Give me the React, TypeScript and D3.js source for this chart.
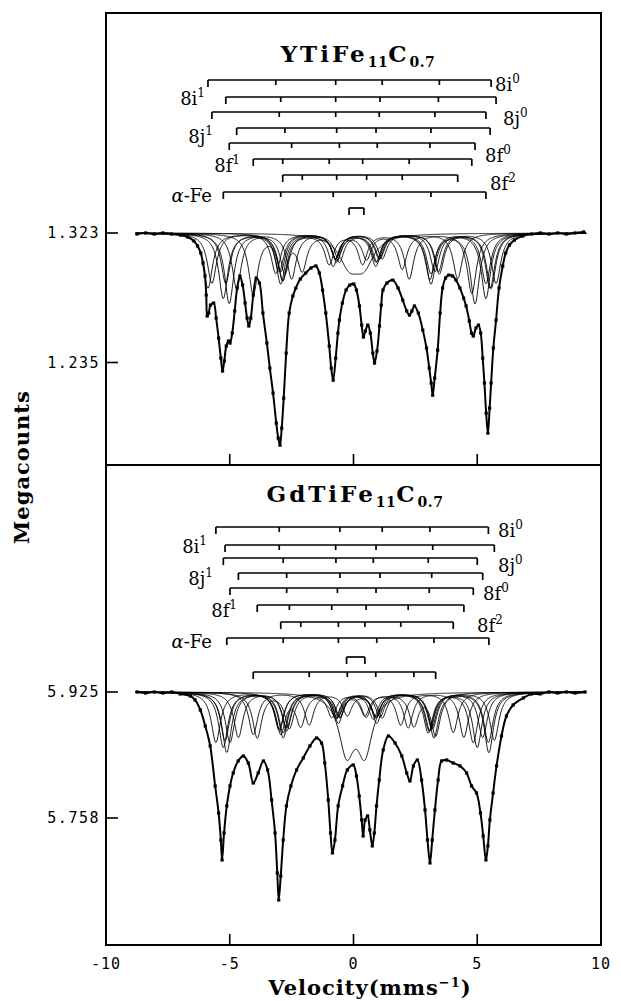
import React from "react";
import * as d3 from "d3";

// ---------- values ----------
const velocityTicks = [-10, -5, 0, 5, 10];
const innerTicks = [-5, 0, 5];

const siteLabels = [
  { base: "8i", sup: "0", side: "right" },
  { base: "8i", sup: "1", side: "left" },
  { base: "8j", sup: "0", side: "right" },
  { base: "8j", sup: "1", side: "left" },
  { base: "8f", sup: "0", side: "right" },
  { base: "8f", sup: "1", side: "left" },
  { base: "8f", sup: "2", side: "right" },
  { base: "α-Fe", sup: "", side: "left" },
];

// YTiFe11C0.7 (upper panel)
const yTickValues = [1.323, 1.235];
const yBaseline = 1.323;
const yLines = [
  [-5.88, -3.14, -0.72, 1.16, 3.47, 5.56],
  [-5.16, -2.94, -0.72, 1.07, 3.43, 5.76],
  [-5.72, -3.0, -0.72, 1.04, 3.29, 5.35],
  [-4.72, -2.77, -0.68, 0.91, 3.13, 5.52],
  [-5.02, -2.5, -0.57, 0.96, 3.09, 4.91],
  [-4.05, -2.86, -0.98, 0.37, 2.25, 4.78],
  [-2.86, -2.07, -0.68, 0.53, 1.97, 4.21],
  [-5.26, -2.94, -0.82, 0.9, 3.13, 5.35],
];
// sub-spectrum depths (Megacounts): outer, middle, inner line pairs
const yOuter = [0.0374, 0.034, 0.034, 0.0374, 0.0476, 0.0408, 0.0306, 0.0442];
const yMiddle = [0.0272, 0.0258, 0.0258, 0.0272, 0.0306, 0.0306, 0.0238, 0.034];
const yInner = [0.017, 0.017, 0.017, 0.019, 0.019, 0.0204, 0.017, 0.0218];
const yDoublet = [-0.18, 0.42];
const yDoubletDepth = 0.019;
const yDots: [number, number][] = [
  [-8.75, 1.3223], [-8.4, 1.323], [-8.05, 1.3223], [-7.7, 1.323], [-7.35, 1.3223], [-7.0, 1.3216],
  [-6.7, 1.3203], [-6.45, 1.3176], [-6.3, 1.3142], [-6.17, 1.3094], [-6.08, 1.3026], [-6.0, 1.2938],
  [-5.95, 1.2808], [-5.91, 1.2666], [-5.85, 1.2686], [-5.78, 1.274], [-5.65, 1.2754], [-5.55, 1.2652],
  [-5.45, 1.2516], [-5.36, 1.238], [-5.29, 1.2292], [-5.22, 1.236], [-5.14, 1.2462], [-5.05, 1.2496],
  [-4.99, 1.2482], [-4.9, 1.255], [-4.8, 1.27], [-4.7, 1.2856], [-4.59, 1.2938], [-4.48, 1.2876],
  [-4.38, 1.2754], [-4.3, 1.2652], [-4.23, 1.2598], [-4.15, 1.2652], [-4.05, 1.2808], [-3.93, 1.2924],
  [-3.8, 1.289], [-3.66, 1.2686], [-3.5, 1.2482], [-3.38, 1.2312], [-3.25, 1.2142], [-3.12, 1.1938],
  [-3.04, 1.1836], [-2.97, 1.1788], [-2.9, 1.1904], [-2.82, 1.2108], [-2.72, 1.2414], [-2.6, 1.2686],
  [-2.45, 1.2802], [-2.33, 1.2856], [-2.15, 1.2917], [-1.93, 1.2958], [-1.72, 1.2992], [-1.52, 1.3006],
  [-1.38, 1.2958], [-1.25, 1.2842], [-1.12, 1.2686], [-0.98, 1.2462], [-0.9, 1.2312], [-0.82, 1.223],
  [-0.72, 1.238], [-0.63, 1.255], [-0.57, 1.2638], [-0.45, 1.2754], [-0.3, 1.2842], [-0.15, 1.2876],
  [0.01, 1.2883], [0.12, 1.2842], [0.24, 1.2734], [0.33, 1.2604], [0.4, 1.2523], [0.48, 1.2564],
  [0.58, 1.2604], [0.68, 1.255], [0.78, 1.2414], [0.85, 1.2346], [0.95, 1.2428], [1.05, 1.2598],
  [1.12, 1.274], [1.19, 1.2842], [1.35, 1.289], [1.59, 1.291], [1.8, 1.2856], [1.99, 1.2774],
  [2.15, 1.27], [2.26, 1.2672], [2.36, 1.27], [2.46, 1.2734], [2.62, 1.2686], [2.8, 1.257],
  [2.95, 1.2448], [3.06, 1.2312], [3.14, 1.221], [3.2, 1.2128], [3.28, 1.2244], [3.4, 1.2434],
  [3.5, 1.2686], [3.6, 1.2856], [3.72, 1.2924], [3.85, 1.2944], [4.0, 1.2938], [4.14, 1.291],
  [4.3, 1.2856], [4.45, 1.2788], [4.55, 1.2734], [4.68, 1.2632], [4.77, 1.255], [4.84, 1.253],
  [4.95, 1.2584], [5.05, 1.2604], [5.14, 1.255], [5.22, 1.238], [5.29, 1.221], [5.36, 1.2006],
  [5.43, 1.187], [5.5, 1.204], [5.56, 1.221], [5.65, 1.2448], [5.76, 1.2638], [5.88, 1.2856],
  [6.03, 1.3006], [6.15, 1.3094], [6.3, 1.3148], [6.5, 1.3182], [6.84, 1.321], [7.2, 1.3223],
  [7.55, 1.323], [7.9, 1.3223], [8.25, 1.323], [8.6, 1.3223], [8.95, 1.323], [9.3, 1.3237],
];

// GdTiFe11C0.7 (lower panel)
const gTickValues = [5.925, 5.758];
const gBaseline = 5.925;
const gLines = [
  [-5.56, -3.0, -0.55, 1.16, 3.09, 5.45],
  [-5.19, -3.0, -0.72, 0.91, 3.2, 5.69],
  [-5.26, -2.84, -0.71, 0.8, 3.02, 5.0],
  [-4.65, -2.7, -0.55, 1.07, 3.16, 5.22],
  [-4.99, -2.7, -0.65, 0.91, 3.06, 4.84],
  [-3.89, -2.59, -0.88, 0.51, 2.21, 4.46],
  [-2.94, -2.13, -0.61, 0.46, 1.91, 4.03],
  [-5.12, -2.84, -0.61, 0.94, 3.25, 5.47],
  [-4.05, -1.79, -0.25, 0.9, 2.44, 3.32],
];
const gOuter = [0.0663, 0.0636, 0.0729, 0.0596, 0.0663, 0.0596, 0.053, 0.0795, 0.0557];
const gMiddle = [0.0504, 0.0477, 0.053, 0.0464, 0.0504, 0.0464, 0.0424, 0.0596, 0.0424];
const gInner = [0.0331, 0.0318, 0.0345, 0.0318, 0.0331, 0.0318, 0.0292, 0.0398, 0.0292];
const gDoublet = [-0.28, 0.46];
const gDoubletDepth = 0.075;
const gDots: [number, number][] = [
  [-8.74, 5.925], [-8.4, 5.9237], [-8.05, 5.925], [-7.7, 5.9237], [-7.35, 5.925], [-7.0, 5.9224],
  [-6.59, 5.9197], [-6.4, 5.9144], [-6.19, 5.9012], [-5.99, 5.88], [-5.79, 5.8535], [-5.59, 5.8005],
  [-5.45, 5.7647], [-5.36, 5.7289], [-5.31, 5.7024], [-5.23, 5.7382], [-5.12, 5.774], [-4.99, 5.8005],
  [-4.86, 5.8177], [-4.66, 5.8336], [-4.45, 5.8402], [-4.25, 5.8309], [-4.05, 5.8044], [-3.85, 5.8177],
  [-3.64, 5.8336], [-3.47, 5.8217], [-3.31, 5.7819], [-3.17, 5.7382], [-3.08, 5.6852], [-3.02, 5.6494],
  [-2.94, 5.6812], [-2.84, 5.7289], [-2.71, 5.774], [-2.53, 5.8005], [-2.3, 5.8217], [-2.03, 5.8376],
  [-1.76, 5.8535], [-1.49, 5.8641], [-1.29, 5.8574], [-1.16, 5.8309], [-1.02, 5.7819], [-0.93, 5.7382],
  [-0.85, 5.7117], [-0.75, 5.7289], [-0.62, 5.774], [-0.44, 5.8005], [-0.25, 5.8217], [-0.01, 5.8283],
  [0.12, 5.8137], [0.23, 5.7872], [0.33, 5.7554], [0.39, 5.7342], [0.47, 5.7554], [0.57, 5.7607],
  [0.66, 5.7422], [0.76, 5.721], [0.84, 5.7382], [0.93, 5.774], [1.04, 5.8084], [1.2, 5.8482],
  [1.41, 5.8667], [1.68, 5.8574], [1.95, 5.8402], [2.15, 5.8177], [2.28, 5.8071], [2.42, 5.827],
  [2.58, 5.8349], [2.75, 5.8084], [2.89, 5.7687], [2.99, 5.7289], [3.09, 5.6984], [3.18, 5.7289],
  [3.29, 5.7687], [3.42, 5.8084], [3.56, 5.8336], [3.76, 5.8349], [4.03, 5.8309], [4.3, 5.827],
  [4.57, 5.8177], [4.77, 5.8005], [4.97, 5.7912], [5.13, 5.7647], [5.24, 5.7342], [5.35, 5.7024],
  [5.43, 5.721], [5.51, 5.7554], [5.64, 5.7912], [5.78, 5.827], [5.98, 5.8667], [6.18, 5.8932],
  [6.45, 5.9078], [6.86, 5.9171], [7.2, 5.9224], [7.53, 5.9224], [7.9, 5.925], [8.25, 5.9237],
  [8.6, 5.925], [8.95, 5.9237], [9.35, 5.925],
];

// ---------- helpers ----------
const lorentz = (v: number, p: number, fwhm: number) => {
  const t = (v - p) / (fwhm / 2);
  return 1 / (1 + t * t);
};
const sextet = (l: number[], outer: number, middle: number, inner: number, fwhm: number) => (v: number) =>
  outer * (lorentz(v, l[0], fwhm) + lorentz(v, l[5], fwhm)) +
  middle * (lorentz(v, l[1], fwhm) + lorentz(v, l[4], fwhm)) +
  inner * (lorentz(v, l[2], fwhm) + lorentz(v, l[3], fwhm));
const doublet = (l: number[], depth: number, fwhm: number) => (v: number) =>
  depth * (lorentz(v, l[0], fwhm) + lorentz(v, l[1], fwhm));

const x = d3.scaleLinear().domain([-10, 10]).range([106, 601]);
const grid = d3.range(-8.8, 9.42, 0.02);
const serif = "'DejaVu Serif', serif";
const mono = "'DejaVu Sans Mono', monospace";

function Bracket({ lines, y }: { lines: number[]; y: number }) {
  return (
    <g stroke="#000" strokeWidth={1.7} fill="none">
      <line x1={x(lines[0])} x2={x(lines[lines.length - 1])} y1={y} y2={y} />
      {lines.map((p, i) => (
        <line key={i} x1={x(p)} x2={x(p)} y1={y} y2={y + (i === 0 || i === lines.length - 1 ? 7 : 5)} />
      ))}
    </g>
  );
}

function SiteLabel({ i, lx, ly }: { i: number; lx: number; ly: number }) {
  const s = siteLabels[i];
  return (
    <text x={lx} y={ly} fontFamily={serif} fontSize={18} textAnchor={s.side === "left" ? "end" : "start"}>
      {s.base === "α-Fe" ? (
        <>
          <tspan fontStyle="italic">α</tspan>-Fe
        </>
      ) : (
        <>
          {s.base}
          <tspan fontSize={12} dy={-8}>{s.sup}</tspan>
        </>
      )}
    </text>
  );
}

interface PanelProps {
  bottom: number;
  y: d3.ScaleLinear<number, number>;
  ticks: number[];
  baseline: number;
  comps: ((v: number) => number)[];
  dots: [number, number][];
  brackets: number[][];
  rowY: number[];
  labelPos: [number, number][];
  title: string;
  titleX: number;
  titleY: number;
}

function Panel(p: PanelProps) {
  const fitLine = d3
    .line<[number, number]>()
    .x((d) => x(d[0]))
    .y((d) => p.y(d[1]))
    .curve(d3.curveCatmullRom.alpha(0.5));
  return (
    <g>
      <text x={p.titleX} y={p.titleY} textAnchor="middle" fontFamily={serif} fontSize={23} fontWeight="bold" letterSpacing={3}>
        {p.title}
        <tspan fontSize={14} dy={5} letterSpacing={0.5}>11</tspan>
        <tspan dy={-5}>C</tspan>
        <tspan fontSize={14} dy={5} letterSpacing={0.5}>0.7</tspan>
      </text>
      {p.brackets.map((b, i) => (
        <Bracket key={i} lines={b} y={p.rowY[i]} />
      ))}
      {p.labelPos.map(([lx, ly], i) => (
        <SiteLabel key={i} i={i} lx={lx} ly={ly} />
      ))}
      {/* fitted sub-spectra */}
      {p.comps.map((c, i) => (
        <path
          key={i}
          d={d3.line<number>().x((v) => x(v)).y((v) => p.y(p.baseline - c(v)))(grid) || ""}
          fill="none"
          stroke="#000"
          strokeWidth={0.9}
        />
      ))}
      {/* overall fit through the measured points */}
      <path d={fitLine(p.dots) || ""} fill="none" stroke="#000" strokeWidth={2} />
      {p.dots.map(([v, c], i) => (
        <rect key={i} x={x(v) - 1.6} y={p.y(c) - 1.6} width={3.2} height={3.2} fill="#000" />
      ))}
      {p.ticks.map((t) => (
        <g key={t}>
          <line x1={106} x2={118} y1={p.y(t)} y2={p.y(t)} stroke="#000" strokeWidth={1.6} />
          <text x={100} y={p.y(t) + 5} textAnchor="end" fontFamily={mono} fontSize={15} letterSpacing={1.5}>
            {t.toFixed(3)}
          </text>
        </g>
      ))}
      {innerTicks.map((t) => (
        <line key={t} x1={x(t)} x2={x(t)} y1={p.bottom} y2={p.bottom - 11} stroke="#000" strokeWidth={1.6} />
      ))}
    </g>
  );
}

export default function App() {
  const yTop = d3.scaleLinear().domain([1.323, 1.235]).range([233, 362.5]);
  const yBot = d3.scaleLinear().domain([5.925, 5.758]).range([692, 818]);

  const topComps = [
    ...yLines.map((l, i) => sextet(l, yOuter[i], yMiddle[i], yInner[i], 0.45)),
    doublet(yDoublet, yDoubletDepth, 1.0),
  ];
  const botComps = [
    ...gLines.map((l, i) => sextet(l, gOuter[i], gMiddle[i], gInner[i], 0.45)),
    doublet(gDoublet, gDoubletDepth, 0.75),
  ];

  return (
    <svg width={621} height={1001} style={{ position: "absolute", left: 0, top: 0, background: "#fff" }}>
      <rect x={0} y={0} width={621} height={1001} fill="#fff" />
      <Panel
        bottom={465}
        y={yTop}
        ticks={yTickValues}
        baseline={yBaseline}
        comps={topComps}
        dots={yDots}
        brackets={[...yLines, yDoublet]}
        rowY={[80, 97, 112, 128, 143, 159, 175, 192, 208]}
        labelPos={[[495, 91], [205, 105], [503, 125], [213, 143], [485, 162], [240, 172], [490, 190], [212, 202]]}
        title="YTiFe"
        titleX={358}
        titleY={62}
      />
      <Panel
        bottom={945}
        y={yBot}
        ticks={gTickValues}
        baseline={gBaseline}
        comps={botComps}
        dots={gDots}
        brackets={[...gLines.slice(0, 8), gDoublet, gLines[8]]}
        rowY={[527, 545, 558, 573, 588, 605, 622, 638, 657, 672]}
        labelPos={[[498, 537], [207, 553], [498, 572], [213, 585], [483, 600], [237, 617], [477, 632], [212, 648]]}
        title="GdTiFe"
        titleX={355}
        titleY={502}
      />
      <rect x={106} y={13} width={495} height={932} fill="none" stroke="#000" strokeWidth={2} />
      <line x1={106} x2={601} y1={465} y2={465} stroke="#000" strokeWidth={2} />
      {velocityTicks.map((t) => (
        <text key={t} x={x(t)} y={969} textAnchor="middle" fontFamily={mono} fontSize={15} letterSpacing={1}>
          {t}
        </text>
      ))}
      <text x={370} y={995} textAnchor="middle" fontFamily={serif} fontSize={21} fontWeight="bold" letterSpacing={1}>
        Velocity(mms<tspan fontSize={13} dy={-8}>−1</tspan>
        <tspan dy={8}>)</tspan>
      </text>
      <text transform="translate(29,467) rotate(-90)" textAnchor="middle" fontFamily={serif} fontSize={21} fontWeight="bold" letterSpacing={1}>
        Megacounts
      </text>
    </svg>
  );
}
